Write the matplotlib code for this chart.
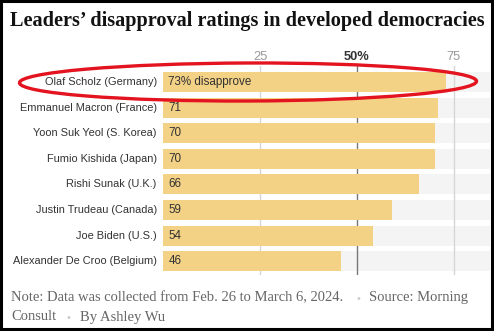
import matplotlib
matplotlib.use("Agg")
import matplotlib.pyplot as plt
from matplotlib.patches import Ellipse, Rectangle

leaders = [
    "Olaf Scholz (Germany)",
    "Emmanuel Macron (France)",
    "Yoon Suk Yeol (S. Korea)",
    "Fumio Kishida (Japan)",
    "Rishi Sunak (U.K.)",
    "Justin Trudeau (Canada)",
    "Joe Biden (U.S.)",
    "Alexander De Croo (Belgium)",
]
disapproval = [73, 71, 70, 70, 66, 59, 54, 46]
ticks = [25, 50, 75]
tick_labels = ["25", "50%", "75"]

W, H = 494, 331
fig = plt.figure(figsize=(W / 100, H / 100), dpi=100)
fig.patch.set_facecolor("white")

# bar area in pixel coordinates
x0, x1 = 163, 490
y_top, y_bot = 66, 275
px_per_unit = 3.88
row0, row_step = 82, 25.6
ax = fig.add_axes([x0 / W, 1 - y_bot / H, (x1 - x0) / W, (y_bot - y_top) / H])
xmax = (x1 - x0) / px_per_unit
ax.set_xlim(0, xmax)
ax.set_ylim((y_bot - row0) / row_step, (y_top - row0) / row_step)

bar_h = 0.78
rows = range(len(leaders))
ax.barh(rows, [xmax] * len(leaders), height=bar_h, left=0,
        color="#f4f4f4", zorder=0)
for t in ticks:
    ax.axvline(t, color="#777777" if t == 50 else "#d6d6d6",
               lw=1.0, zorder=1)
ax.barh(rows, disapproval, height=bar_h, color="#f3d185", zorder=2)

for i, (name, v) in enumerate(zip(leaders, disapproval)):
    lab = f"{v}% disapprove" if i == 0 else str(v)
    ax.text(1.4, i, lab, ha="left", va="center", fontsize=8.4,
            family="Liberation Sans", color="#333333", zorder=3)
    ax.text(-1.6, i, name, ha="right", va="center", fontsize=7.9,
            family="Liberation Sans", color="#333333", clip_on=False)

ax.set_xticks([])
ax.set_yticks([])
for s in ax.spines.values():
    s.set_visible(False)
for t, lab in zip(ticks, tick_labels):
    bold = t == 50
    ax.text(t, (57 - row0) / row_step, lab, ha="center", va="center",
            fontsize=9.3, family="Liberation Sans",
            fontweight="bold" if bold else "normal",
            color="#333333" if bold else "#999999", clip_on=False)

# overlay in pixel coordinates for title, notes, ring and frame
ov = fig.add_axes([0, 0, 1, 1], facecolor="none")
ov.set_xlim(0, W)
ov.set_ylim(H, 0)
ov.axis("off")

ov.text(10, 21, "Leaders\u2019 disapproval ratings in developed democracies",
        ha="left", va="center", fontsize=14.6, fontweight="bold",
        family="Liberation Serif", color="#121212")

note_kw = dict(ha="left", va="center", fontsize=10.5,
               family="Liberation Serif", color="#666666")
dot_kw = dict(ha="center", va="center", fontsize=7, color="#cccccc")
ov.text(11, 298, "Note: Data was collected from Feb. 26 to March 6, 2024.",
        **note_kw)
ov.text(358, 299, "\u2022", **dot_kw)
ov.text(369, 298, "Source: Morning", **note_kw)
ov.text(11, 317, "Consult", **note_kw)
ov.text(68, 318, "\u2022", **dot_kw)
ov.text(80, 317, "By Ashley Wu", **note_kw)

ov.add_patch(Ellipse((248, 82), 457, 38, angle=-0.2, fill=False,
                     edgecolor="#e3141f", lw=2.4, zorder=5))
ov.add_patch(Rectangle((1, 1), W - 3, H - 3, fill=False,
                       edgecolor="black", lw=2.2, zorder=6))

fig.savefig("out.png", dpi=100)
